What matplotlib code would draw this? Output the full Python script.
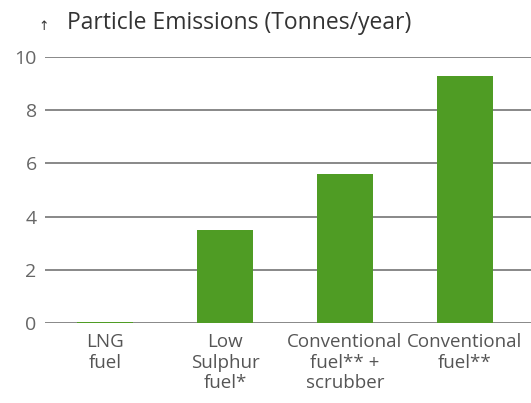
import matplotlib.pyplot as plt
import numpy as np

plt.rcParams['font.family'] = ['Open Sans', 'DejaVu Sans']

categories = ["LNG\nfuel", "Low\nSulphur\nfuel*", "Conventional\nfuel** +\nscrubber", "Conventional\nfuel**"]
values = [0.05, 3.5, 5.6, 9.3]
yticks = [0, 2, 4, 6, 8, 10]

fig = plt.figure(figsize=(5.31, 4.03), dpi=100)
ax = fig.add_axes([0.0847, 0.1985, 0.9153, 0.6601])

x = np.arange(len(categories))
ax.bar(x, values, width=0.46, color='#4f9c24', zorder=3)

ax.set_ylim(0, 10)
ax.set_xlim(-0.5, 3.55)
ax.set_yticks(yticks)
ax.yaxis.grid(True, color='#7f7f7f', linewidth=1.3, zorder=1)
ax.set_xticks(x)
ax.set_xticklabels(categories, color='#555555', fontsize=13.5, linespacing=1.2)
ax.tick_params(axis='y', length=0, pad=6, labelcolor='#666666', labelsize=14)
ax.tick_params(axis='x', length=0, pad=7)
for s in ax.spines.values():
    s.set_visible(False)

fig.text(0.073, 0.935, "↑", fontsize=9, color='#333333', ha='left', va='center', family='DejaVu Sans')
fig.text(0.126, 0.942, "Particle Emissions (Tonnes/year)", fontsize=16.5, color='#333333', ha='left', va='center')

fig.savefig("out.png", dpi=100)
